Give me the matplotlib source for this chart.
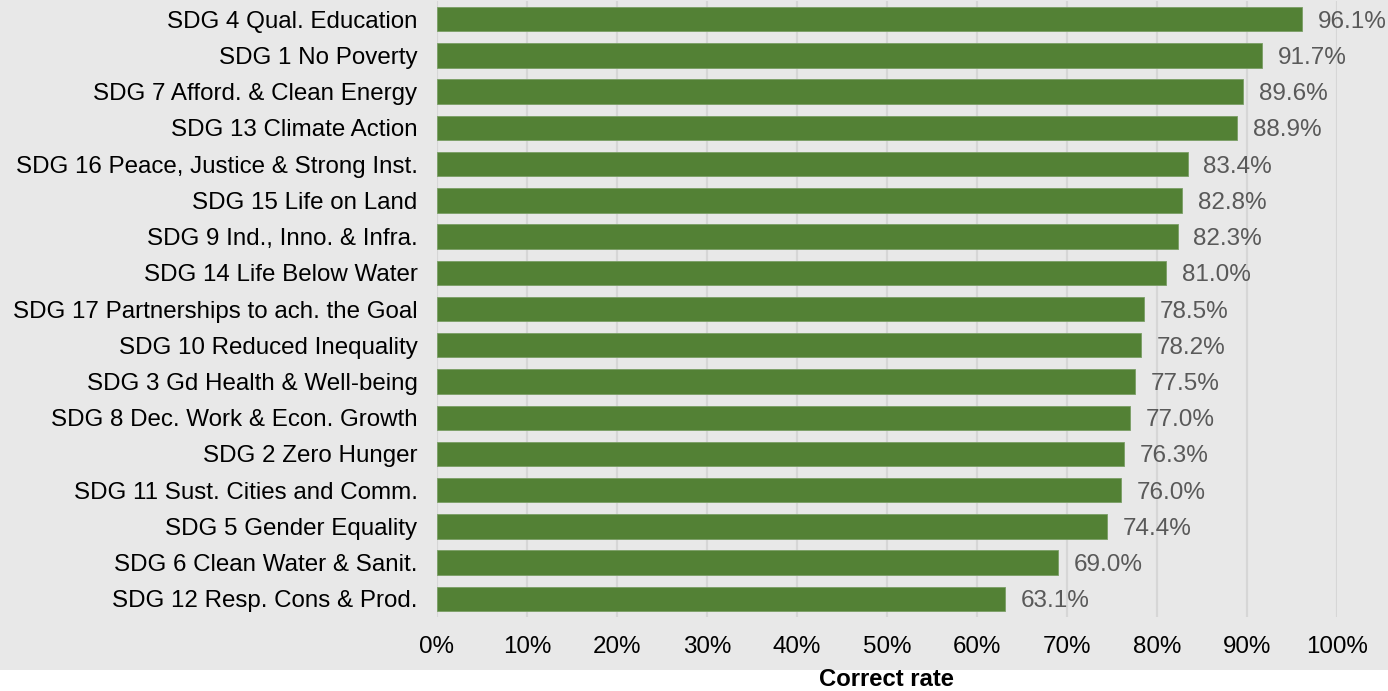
import matplotlib
matplotlib.use("Agg")
import matplotlib.pyplot as plt
from matplotlib.patches import Rectangle

plt.rcParams['font.family'] = ['Liberation Sans', 'DejaVu Sans']

goals = [
    "SDG 4 Qual. Education",
    "SDG 1 No Poverty",
    "SDG 7 Afford. & Clean Energy",
    "SDG 13 Climate Action",
    "SDG 16 Peace, Justice & Strong Inst.",
    "SDG 15 Life on Land",
    "SDG 9 Ind., Inno. & Infra.",
    "SDG 14 Life Below Water",
    "SDG 17 Partnerships to ach. the Goal",
    "SDG 10 Reduced Inequality",
    "SDG 3 Gd Health & Well-being",
    "SDG 8 Dec. Work & Econ. Growth",
    "SDG 2 Zero Hunger",
    "SDG 11 Sust. Cities and Comm.",
    "SDG 5 Gender Equality",
    "SDG 6 Clean Water & Sanit.",
    "SDG 12 Resp. Cons & Prod.",
]
rates = [96.1, 91.7, 89.6, 88.9, 83.4, 82.8, 82.3, 81.0, 78.5,
         78.2, 77.5, 77.0, 76.3, 76.0, 74.4, 69.0, 63.1]
xticks = [0, 10, 20, 30, 40, 50, 60, 70, 80, 90, 100]

bg = '#e8e8e8'
green = '#538135'

fig = plt.figure(figsize=(13.88, 6.91), dpi=100, facecolor=bg)
# white strip under the chart area
fig.patches.append(Rectangle((0, 0), 1, 0.0304, transform=fig.transFigure,
                             facecolor='white', edgecolor='none'))

ax = fig.add_axes([0.3148, 0.107, 0.9633 - 0.3148, 0.9986 - 0.107])
ax.set_facecolor(bg)

ypos = list(range(len(goals)))
ax.barh(ypos, rates, height=0.675, color=green, edgecolor='#7a9e65', linewidth=0.6, zorder=3)

for y, v in zip(ypos, rates):
    ax.text(v + 1.75, y, f"{v:.1f}%", va='center_baseline', ha='left', fontsize=17.5, color='#595959')

ax.set_ylim(len(goals) - 0.5, -0.5)
ax.set_yticks(ypos)
ax.set_yticklabels(goals, fontsize=17.4, color='black')

ax.set_xlim(0, 100)
ax.set_xticks(xticks)
ax.set_xticklabels([f"{t}%" for t in xticks], fontsize=17.4, color='black')

ax.tick_params(axis='both', length=0)
ax.tick_params(axis='y', pad=14)
ax.tick_params(axis='x', pad=13.5)
ax.grid(axis='x', color='#d6d6d6', linewidth=1.6, zorder=0)
ax.set_axisbelow(True)
for s in ax.spines.values():
    s.set_visible(False)

fig.text(0.6385, 0.016, "Correct rate", ha='center', va='center', fontsize=17.2,
         fontweight='bold', color='black')

fig.savefig("out.png", dpi=100, facecolor=fig.get_facecolor())
